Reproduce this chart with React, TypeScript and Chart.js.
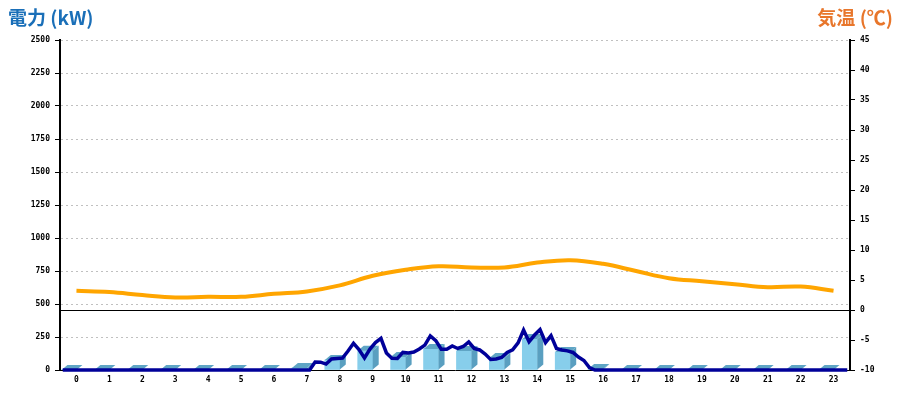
import React, { useEffect, useRef } from "react";
import { Chart, registerables } from "chart.js";

Chart.register(...registerables);

// ---- data ----
const hourLabels = ["0","1","2","3","4","5","6","7","8","9","10","11","12","13","14","15","16","17","18","19","20","21","22","23"];

// hourly bars (kW, left axis)
const hourlyPower = [0, 0, 0, 0, 0, 0, 0, 15, 76, 146, 98, 159, 144, 90, 234, 136, 8, 0, 0, 0, 0, 0, 0, 0];

// hourly temperature (°C, right axis)
const temperature = [3.2, 3.0, 2.5, 2.1, 2.2, 2.2, 2.7, 3.1, 4.1, 5.7, 6.7, 7.3, 7.1, 7.1, 7.9, 8.3, 7.7, 6.5, 5.3, 4.8, 4.3, 3.8, 3.9, 3.2];

// 10-minute power (kW), 144 samples from 0:00 to 24:00
const power10min = [
  0, 0, 0, 0, 0, 0, 0, 0, 0, 0, 0, 0,
  0, 0, 0, 0, 0, 0, 0, 0, 0, 0, 0, 0,
  0, 0, 0, 0, 0, 0, 0, 0, 0, 0, 0, 0,
  0, 0, 0, 0, 0, 0, 0, 0, 0, 0, 61, 59,
  45, 83, 87, 91, 144, 202, 155, 91, 159, 208, 240, 129,
  89, 87, 133, 129, 136, 159, 189, 258, 223, 157, 157, 182,
  163, 178, 212, 163, 152, 121, 80, 83, 95, 133, 152, 205,
  303, 214, 265, 307, 208, 261, 163, 152, 145, 133, 98, 72,
  19, 0, 0, 0, 0, 0, 0, 0, 0, 0, 0, 0,
  0, 0, 0, 0, 0, 0, 0, 0, 0, 0, 0, 0,
  0, 0, 0, 0, 0, 0, 0, 0, 0, 0, 0, 0,
  0, 0, 0, 0, 0, 0, 0, 0, 0, 0, 0, 0,
];

const leftTitle = "電力 (kW)";
const rightTitle = "気温 (℃)";

const BAR_FRONT = "#87ceeb";
const BAR_SIDE = "#5a9fc0";
const BAR_TOP = "#5fa5c5";

const tickFont = { family: "'DejaVu Sans Mono', monospace", size: 8, weight: "bold" };

const bar3dPlugin = {
  id: "bar3d",
  afterDatasetDraw(chart: any, args: any) {
    if (args.index !== 0) return;
    const ctx = chart.ctx;
    const dx = 6;
    const dy = 5;
    ctx.save();
    args.meta.data.forEach((el: any) => {
      const p = el.getProps(["x", "y", "base", "width"], true);
      const l = p.x - p.width / 2;
      const r = p.x + p.width / 2;
      ctx.fillStyle = BAR_SIDE;
      ctx.beginPath();
      ctx.moveTo(r, p.y);
      ctx.lineTo(r + dx, p.y - dy);
      ctx.lineTo(r + dx, p.base - dy);
      ctx.lineTo(r, p.base);
      ctx.closePath();
      ctx.fill();
      ctx.fillStyle = BAR_TOP;
      ctx.beginPath();
      ctx.moveTo(l, p.y);
      ctx.lineTo(l + dx, p.y - dy);
      ctx.lineTo(r + dx, p.y - dy);
      ctx.lineTo(r, p.y);
      ctx.closePath();
      ctx.fill();
    });
    ctx.restore();
  },
};

const plainTick = (v: any) => String(v);

export default function App() {
  const canvasRef = useRef<HTMLCanvasElement | null>(null);

  useEffect(() => {
    if (!canvasRef.current) return;
    const linePoints = power10min.map((v, k) => ({ x: (k + 0.5) / 6, y: v }));
    const chart = new Chart(canvasRef.current, {
      type: "bar",
      data: {
        labels: hourLabels,
        datasets: [
          {
            type: "bar",
            data: hourlyPower,
            backgroundColor: BAR_FRONT,
            barThickness: 15,
            xAxisID: "x",
            yAxisID: "y",
            order: 3,
          } as any,
          {
            type: "line",
            data: temperature,
            borderColor: "#ffa500",
            borderWidth: 4,
            pointRadius: 0,
            tension: 0.4,
            xAxisID: "x",
            yAxisID: "y1",
            order: 2,
          } as any,
          {
            type: "line",
            data: linePoints,
            borderColor: "#000099",
            borderWidth: 3.5,
            pointRadius: 0,
            tension: 0,
            clip: false,
            xAxisID: "x2",
            yAxisID: "y",
            order: 1,
          } as any,
        ],
      },
      options: {
        responsive: false,
        animation: false,
        layout: { padding: { top: 40, left: 0, right: 0, bottom: 0 } },
        plugins: { legend: { display: false }, tooltip: { enabled: false } },
        scales: {
          x: {
            type: "category",
            offset: true,
            grid: { display: false, drawTicks: false },
            border: { display: true, color: "#000", width: 1 },
            ticks: { color: "#000", font: tickFont, padding: 5, maxRotation: 0, autoSkip: false },
            afterFit: (s: any) => { s.height = 30; },
          },
          x2: {
            type: "linear",
            display: false,
            offset: false,
            grace: 0,
            min: 0,
            max: 24,
          },
          y: {
            position: "left",
            min: 0,
            max: 2500,
            ticks: { stepSize: 250, color: "#000", font: tickFont, padding: 5, callback: plainTick },
            grid: { color: "#c0c0c0", tickColor: "#000", tickLength: 5, lineWidth: 1 },
            border: { display: true, color: "#000", width: 2, dash: [2, 3] },
            afterFit: (s: any) => { s.width = 60; },
          },
          y1: {
            position: "right",
            min: -10,
            max: 45,
            ticks: { stepSize: 5, color: "#000", font: tickFont, padding: 5, callback: plainTick },
            grid: {
              color: (c: any) => (c.tick && c.tick.value === 0 ? "#000" : "rgba(0,0,0,0)"),
              tickColor: "#000",
              tickLength: 5,
              lineWidth: 1,
            },
            border: { display: true, color: "#000", width: 2 },
            afterFit: (s: any) => { s.width = 50; },
          },
        },
      } as any,
      plugins: [bar3dPlugin],
    });
    return () => chart.destroy();
  }, []);

  const titleFont = "bold 19px 'Noto Sans CJK JP', 'Noto Sans', sans-serif";

  return (
    <div style={{ position: "absolute", left: 0, top: 0, width: 900, height: 400, background: "#fff" }}>
      <div style={{ position: "absolute", left: 8, top: 4, font: titleFont, lineHeight: "26px", color: "#1a6fb8", whiteSpace: "nowrap" }}>
        {leftTitle}
      </div>
      <div style={{ position: "absolute", right: 7, top: 4, font: titleFont, lineHeight: "26px", color: "#e8762b", whiteSpace: "nowrap" }}>
        {rightTitle}
      </div>
      <canvas ref={canvasRef} width={900} height={400} style={{ display: "block" }} />
    </div>
  );
}
